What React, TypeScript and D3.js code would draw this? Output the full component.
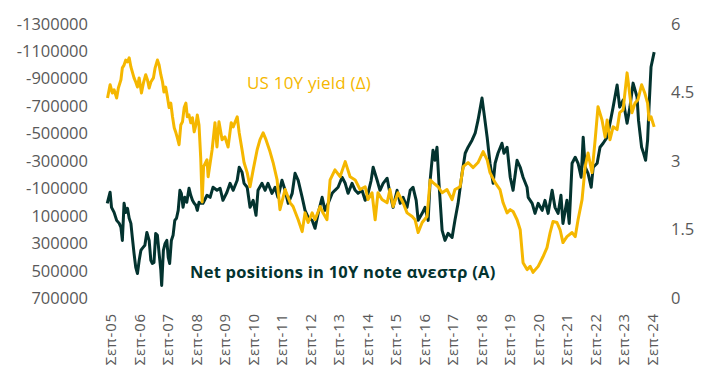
import React from 'react';
import * as d3 from 'd3';

// US 10Y yield (right axis); time in decimal years
const yieldYears = [
  2005.58, 2005.67, 2005.75, 2005.81, 2005.90, 2005.96,
  2006.05, 2006.10, 2006.16, 2006.22, 2006.28, 2006.34, 2006.40, 2006.45, 2006.51, 2006.57,
  2006.63, 2006.69, 2006.77, 2006.84, 2006.92, 2006.98,
  2007.04, 2007.10, 2007.19, 2007.25, 2007.33, 2007.39, 2007.45, 2007.51, 2007.56, 2007.62,
  2007.68, 2007.74, 2007.80, 2007.86, 2007.92, 2007.98,
  2008.03, 2008.09, 2008.15, 2008.21, 2008.27, 2008.33, 2008.38, 2008.44, 2008.50, 2008.56,
  2008.62, 2008.68, 2008.73, 2008.79, 2008.85, 2008.90, 2008.95,
  2009.07, 2009.11, 2009.25, 2009.35, 2009.42, 2009.49, 2009.60,
  2009.70, 2009.81, 2009.92, 2009.99, 2010.13, 2010.20, 2010.30, 2010.37, 2010.48, 2010.58,
  2010.69, 2010.83, 2010.93, 2011.04, 2011.14, 2011.28, 2011.39, 2011.53, 2011.63, 2011.81,
  2011.99, 2012.09, 2012.27, 2012.41, 2012.51, 2012.62, 2012.76, 2012.86, 2013.04, 2013.14,
  2013.28, 2013.39, 2013.56, 2013.74, 2013.92, 2014.09, 2014.27, 2014.44, 2014.62, 2014.72,
  2014.86, 2014.97, 2015.07, 2015.21, 2015.39, 2015.49, 2015.60, 2015.77, 2015.95, 2016.09,
  2016.27, 2016.37, 2016.48, 2016.62, 2016.79, 2016.90, 2017.00, 2017.18, 2017.32, 2017.49,
  2017.67, 2017.77, 2017.95, 2018.06, 2018.23, 2018.41, 2018.58, 2018.76, 2018.90, 2019.00,
  2019.18, 2019.35, 2019.46, 2019.60, 2019.71, 2019.81, 2019.95, 2020.06, 2020.16, 2020.30,
  2020.41, 2020.51, 2020.69, 2020.86, 2021.00, 2021.11, 2021.21, 2021.35, 2021.46, 2021.56,
  2021.70, 2021.88, 2021.99, 2022.09, 2022.23, 2022.34, 2022.44, 2022.58, 2022.69, 2022.79,
  2022.93, 2023.04, 2023.11, 2023.21, 2023.32, 2023.46, 2023.55, 2023.67, 2023.81, 2023.84,
  2023.98, 2024.09, 2024.19, 2024.32, 2024.43, 2024.53, 2024.58, 2024.65, 2024.76,
];
const yieldValues = [
  4.36, 4.65, 4.47, 4.54, 4.36, 4.58,
  4.76, 5.02, 5.08, 5.19, 5.15, 5.24, 5.04, 4.93, 4.80, 4.71,
  4.60, 4.80, 4.47, 4.69, 4.87, 4.76,
  4.58, 4.71, 4.80, 5.02, 5.19, 5.08, 4.87, 4.71, 4.49, 4.60,
  4.39, 4.15, 4.25, 3.95, 3.71, 3.60,
  3.49, 3.34, 3.77, 3.84, 4.15, 4.25, 3.95, 3.99, 3.82, 3.93,
  3.62, 3.77, 3.99, 3.77, 3.05, 2.09, 2.86,
  3.01, 2.64, 3.23, 3.82, 3.29, 3.84, 3.45,
  3.51, 3.29, 3.82, 3.73, 3.95, 3.60, 3.23, 2.95, 2.73, 2.42,
  2.79, 3.23, 3.45, 3.60, 3.45, 3.19, 2.95, 2.57, 1.92, 2.36,
  2.07, 1.99, 1.70, 1.44, 1.85, 1.64, 1.85, 1.70, 1.99, 1.85,
  1.70, 2.57, 2.79, 2.64, 2.97, 2.64, 2.57, 2.36, 2.42, 2.14,
  2.29, 1.70, 2.29, 2.14, 2.07, 2.36, 1.99, 2.29, 2.07, 1.85,
  1.77, 1.70, 1.42, 1.64, 1.77, 2.57, 2.51, 2.42, 2.29, 2.36,
  2.14, 2.36, 2.42, 2.86, 2.95, 2.84, 2.95, 3.19, 3.01, 2.73,
  2.51, 2.36, 2.07, 1.85, 1.92, 1.88, 1.70, 1.48, 0.76, 0.61,
  0.68, 0.55, 0.68, 0.89, 1.09, 1.42, 1.66, 1.64, 1.48, 1.20,
  1.33, 1.42, 1.33, 1.70, 2.14, 2.86, 3.16, 2.73, 3.45, 4.17,
  3.88, 3.51, 3.88, 3.45, 3.73, 3.67, 4.04, 4.10, 4.91, 4.76,
  4.04, 4.25, 4.32, 4.65, 4.47, 4.25, 3.88, 3.95, 3.73,
];

// Net positions in 10Y note (left axis, inverted)
const netYears = [
  2005.57, 2005.67, 2005.72, 2005.81, 2005.90, 2005.99,
  2006.05, 2006.10, 2006.16, 2006.22, 2006.28, 2006.34, 2006.40, 2006.45, 2006.51, 2006.57,
  2006.63, 2006.69, 2006.75, 2006.80, 2006.89, 2006.96,
  2007.04, 2007.10, 2007.15, 2007.21, 2007.27, 2007.33, 2007.39, 2007.45, 2007.48, 2007.54,
  2007.60, 2007.66, 2007.71, 2007.76, 2007.82, 2007.88, 2007.94,
  2008.00, 2008.06, 2008.12, 2008.17, 2008.23, 2008.29, 2008.36, 2008.44, 2008.50, 2008.56,
  2008.62, 2008.68, 2008.73, 2008.79,
  2008.83, 2008.93, 2009.07, 2009.18, 2009.28, 2009.42, 2009.53, 2009.63, 2009.77,
  2009.88, 2009.99, 2010.13, 2010.20, 2010.30, 2010.37, 2010.48, 2010.58, 2010.69, 2010.79,
  2010.86, 2011.00, 2011.11, 2011.21, 2011.35, 2011.46, 2011.56, 2011.70, 2011.81, 2011.92,
  2012.06, 2012.16, 2012.27, 2012.41, 2012.51, 2012.62, 2012.76, 2012.86, 2012.97, 2013.11,
  2013.21, 2013.32, 2013.46, 2013.56, 2013.67, 2013.81, 2013.92, 2014.02, 2014.16, 2014.27,
  2014.37, 2014.51, 2014.62, 2014.72, 2014.83, 2014.90, 2015.04, 2015.14, 2015.25, 2015.39,
  2015.49, 2015.60, 2015.74, 2015.85, 2015.95, 2016.09, 2016.20, 2016.30, 2016.41, 2016.48,
  2016.62, 2016.72, 2016.83, 2016.90, 2017.00, 2017.07, 2017.14, 2017.21, 2017.32, 2017.42,
  2017.53, 2017.67, 2017.77, 2017.88, 2018.02, 2018.13, 2018.23, 2018.37, 2018.48, 2018.58,
  2018.72, 2018.79, 2018.90, 2019.00, 2019.11, 2019.18, 2019.28, 2019.42, 2019.49, 2019.60,
  2019.71, 2019.81, 2019.95, 2020.06, 2020.16, 2020.30, 2020.34, 2020.48, 2020.58, 2020.69,
  2020.83, 2020.93, 2021.04, 2021.18, 2021.28, 2021.39, 2021.49, 2021.56, 2021.70, 2021.78,
  2021.88, 2021.99, 2022.09, 2022.20, 2022.27, 2022.34, 2022.44, 2022.55, 2022.62, 2022.76,
  2022.86, 2022.97, 2023.11, 2023.21, 2023.32, 2023.46, 2023.55, 2023.67, 2023.81, 2023.91,
  2024.02, 2024.16, 2024.21, 2024.32, 2024.39, 2024.46, 2024.53, 2024.58, 2024.65, 2024.76,
];
const netValues = [
  14000, -67000, 43000, 80000, 138000, 160000,
  189000, 284000, 14000, 80000, 50000, 123000, 160000, 262000, 379000, 481000,
  525000, 430000, 357000, 342000, 320000, 226000,
  284000, 430000, 452000, 444000, 233000, 247000, 379000, 503000, 612000, 357000,
  306000, 284000, 408000, 452000, 284000, 247000, 138000,
  123000, 65000, -81000, -59000, 43000, -30000, 6000, -96000, -45000, -8000,
  14000, 28000, 65000, 6000,
  14000, 14000, -45000, -30000, -103000, -81000, -96000, -8000, -67000,
  -132000, -81000, -154000, -249000, -213000, -132000, -103000, 43000, -8000, 101000,
  -81000, -132000, -81000, -132000, -59000, -103000, -30000, -154000, -81000, 14000,
  -59000, -205000, -154000, -30000, 65000, 116000, 138000, 196000, 87000, -30000,
  65000, 14000, -59000, -81000, -103000, -176000, -132000, -59000, -132000, -81000,
  -59000, -81000, -8000, -59000, -154000, -249000, -154000, -81000, -132000, -169000,
  -59000, 43000, -81000, 14000, -30000, 43000, -81000, -103000, -8000, 138000,
  87000, 43000, 138000, -154000, -373000, -300000, -395000, -132000, 211000, 284000,
  233000, 262000, 138000, 14000, -205000, -351000, -395000, -446000, -497000, -592000,
  -753000, -643000, -468000, -278000, -132000, -278000, -351000, -424000, -351000, -395000,
  -176000, -81000, -300000, -249000, -176000, -103000, -30000, 14000, 87000, 14000,
  65000, -8000, 87000, -81000, 43000, 87000, -45000, 160000, -8000, 160000,
  -278000, -322000, -278000, -176000, -468000, -249000, -205000, -103000, -249000, -278000,
  -395000, -424000, -468000, -570000, -687000, -848000, -687000, -738000, -570000, -687000,
  -862000, -760000, -592000, -395000, -351000, -300000, -446000, -687000, -979000, -1088000,
];

const leftTicks = [-1300000, -1100000, -900000, -700000, -500000, -300000, -100000, 100000, 300000, 500000, 700000];
const rightTicks = [0, 1.5, 3, 4.5, 6];
const xTickLabels = [
  'Σεπ-05', 'Σεπ-06', 'Σεπ-07', 'Σεπ-08', 'Σεπ-09', 'Σεπ-10', 'Σεπ-11', 'Σεπ-12', 'Σεπ-13', 'Σεπ-14',
  'Σεπ-15', 'Σεπ-16', 'Σεπ-17', 'Σεπ-18', 'Σεπ-19', 'Σεπ-20', 'Σεπ-21', 'Σεπ-22', 'Σεπ-23', 'Σεπ-24',
];
const firstLabelYear = 2005 + 8 / 12; // Sep 2005

const W = 708;
const H = 384;
const YELLOW = '#f5b700';
const DARK = '#03332f';
const GREY = '#595959';
const FONT = '"Open Sans", "Noto Sans", sans-serif';

export default function App() {
  const x = d3.scaleLinear()
    .domain([firstLabelYear, firstLabelYear + xTickLabels.length - 1])
    .range([110, 651.5]);
  const yLeft = d3.scaleLinear().domain([-1300000, 700000]).range([23, 297.5]);
  const yRight = d3.scaleLinear().domain([0, 6]).range([297.5, 23]);

  const netLine = d3.line<number>()
    .x((_, i) => x(netYears[i]))
    .y(d => yLeft(d));
  const yieldLine = d3.line<number>()
    .x((_, i) => x(yieldYears[i]))
    .y(d => yRight(d));

  return (
    <svg width={W} height={H} style={{ position: 'absolute', left: 0, top: 0, background: '#fff' }}
      fontFamily={FONT}>
      {/* left axis */}
      {leftTicks.map(t => (
        <text key={t} x={88} y={yLeft(t)} textAnchor="end" dominantBaseline="central"
          fontSize={16.5} fill={GREY}>{t}</text>
      ))}
      {/* right axis */}
      {rightTicks.map(t => (
        <text key={t} x={671} y={yRight(t)} textAnchor="start" dominantBaseline="central"
          fontSize={16.5} fill={GREY}>{t}</text>
      ))}
      {/* x labels */}
      {xTickLabels.map((lab, i) => (
        <text key={lab} transform={`translate(${x(firstLabelYear + i)},313) rotate(-90)`}
          textAnchor="end" dominantBaseline="central" fontSize={15} letterSpacing={0.8}
          fill={GREY}>{lab}</text>
      ))}

      <path d={netLine(netValues) ?? ''} fill="none" stroke={DARK} strokeWidth={3}
        strokeLinejoin="round" />
      <path d={yieldLine(yieldValues) ?? ''} fill="none" stroke={YELLOW} strokeWidth={3}
        strokeLinejoin="round" />

      <text x={247} y={89} fontSize={17} fontWeight={500} letterSpacing={0.2} fill={YELLOW}>
        US 10Y yield (Δ)
      </text>
      <text x={190} y={278} fontSize={16.5} fontWeight={700} letterSpacing={0.25} fill={DARK}>
        Net positions in 10Y note ανεστρ (A)
      </text>
    </svg>
  );
}
